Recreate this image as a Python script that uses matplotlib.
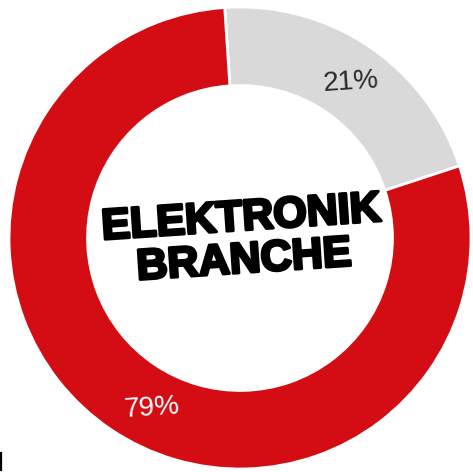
import matplotlib
matplotlib.use("Agg")
import matplotlib.pyplot as plt
import matplotlib.patheffects as pe
from matplotlib.lines import Line2D
import numpy as np

# Share of the electronics branch
labels = ["Andere", "Elektronik"]
shares = [21, 79]
colors = ["#D9D9D9", "#D40D14"]
label_colors = ["#2b2b2b", "#ffffff"]
center_title = "ELEKTRONIK\nBRANCHE"

tilt = 3.8  # the whole graphic is turned slightly counter-clockwise
label_shift = [-1.5, 6.5]  # angular nudge of each percentage label (degrees)

fig = plt.figure(figsize=(4.73, 4.72), dpi=100)
ax = fig.add_axes([0, 0, 1, 1])

wedges, _ = ax.pie(
    shares,
    colors=colors,
    startangle=90 + tilt,
    counterclock=False,
    radius=1.0,
    wedgeprops=dict(width=0.34, edgecolor="white", linewidth=2),
)

for w, val, tc, shift in zip(wedges, shares, label_colors, label_shift):
    ang = np.deg2rad((w.theta1 + w.theta2) / 2 + shift)
    r = 0.83
    ax.text(r * np.cos(ang), r * np.sin(ang), f"{val}%",
            ha="center", va="center", color=tc, fontsize=20,
            family="Liberation Sans", rotation=tilt)

ax.text(0.01, -0.01, center_title, ha="center", va="center",
        fontsize=31, fontweight="bold", family="Liberation Sans",
        color="black", rotation=tilt, linespacing=1.08,
        path_effects=[pe.withStroke(linewidth=2.2, foreground="black")])

# thin dark stroke at the lower-left border
fig.add_artist(Line2D([0.002, 0.002], [0.004, 0.04], color="black",
                      linewidth=1.6, transform=fig.transFigure))

ax.set_xlim(-240 / 231, (473 - 240) / 231)
ax.set_ylim(-(472 - 238) / 231, 238 / 231)
ax.set_aspect("auto")
ax.axis("off")

fig.savefig("out.png", dpi=100)
